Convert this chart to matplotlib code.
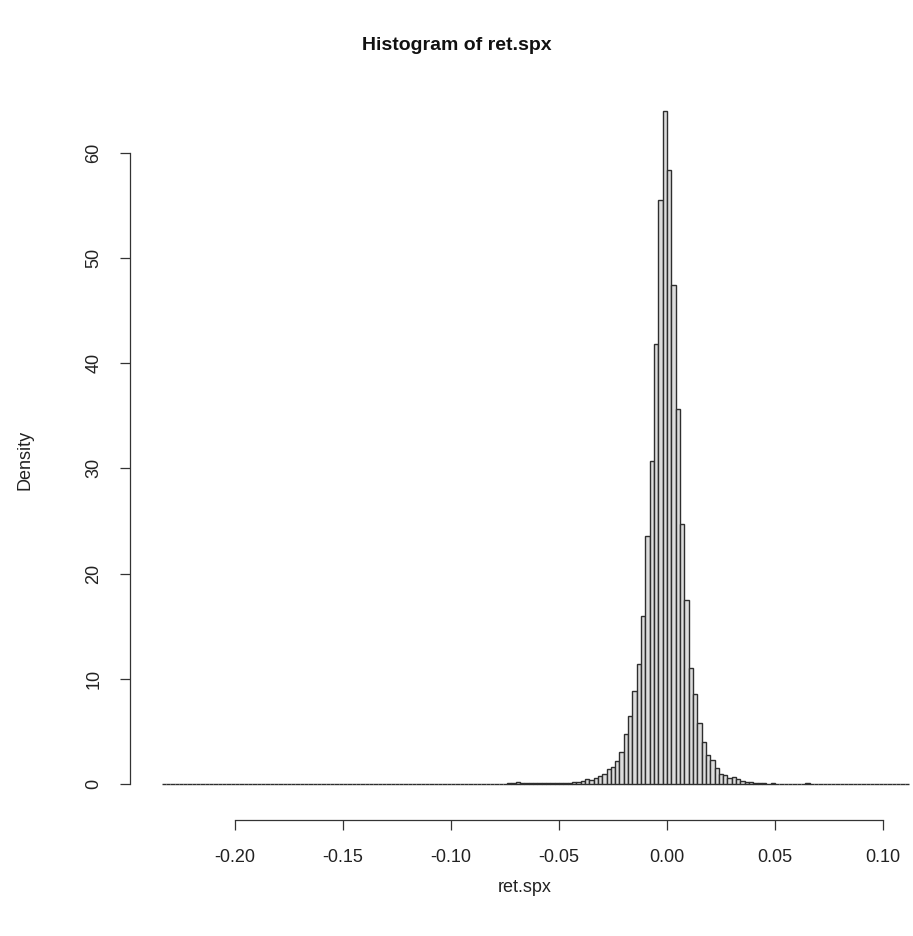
import numpy as np
import matplotlib
matplotlib.use('Agg')
import matplotlib.pyplot as plt

plt.rcParams['font.family'] = ['Liberation Sans', 'DejaVu Sans']

# histogram of daily S&P 500 log returns, bin width 0.002 from -0.234 to 0.114
bin_width = 0.002
first_edge = -0.234

# density per bin, left tail (-0.234 .. -0.042)
tail_left = [0.03, 0, 0, 0, 0, 0, 0, 0, 0, 0,
             0, 0, 0, 0, 0, 0, 0, 0, 0, 0,
             0, 0, 0, 0, 0, 0, 0, 0, 0, 0,
             0, 0, 0, 0, 0, 0, 0, 0, 0, 0,
             0, 0, 0, 0, 0, 0, 0, 0, 0, 0,
             0, 0, 0, 0, 0, 0, 0, 0, 0, 0.03,
             0, 0, 0, 0, 0, 0.03, 0, 0, 0, 0.03,
             0, 0, 0, 0.03, 0, 0.03, 0.03, 0.03, 0, 0.03,
             0.06, 0.06, 0.15, 0.06, 0.06, 0.06, 0.1, 0.06, 0.1, 0.06,
             0.06, 0.1, 0.06, 0.12, 0.1, 0.15]
# central part (-0.042 .. 0.042)
center = [0.2, 0.3, 0.45, 0.38, 0.6, 0.79, 0.92, 1.4, 1.6, 2.2,
          3.0, 4.8, 6.5, 8.8, 11.4, 16.0, 23.6, 30.7, 41.8, 55.5,
          64.0, 58.4, 47.4, 35.6, 24.7, 17.5, 11.0, 8.6, 5.8, 4.0,
          2.75, 2.3, 1.5, 0.95, 0.85, 0.54, 0.7, 0.45, 0.3, 0.2,
          0.15]
# right tail (0.042 .. 0.114)
tail_right = [0.1, 0.06, 0.06, 0.03, 0.06, 0.03, 0.03, 0, 0.03, 0.03,
              0.03, 0, 0.06, 0, 0.03, 0, 0, 0, 0.03, 0,
              0, 0, 0, 0, 0, 0, 0, 0.03, 0, 0,
              0, 0, 0, 0, 0, 0]

density = np.array(tail_left + center + tail_right)
edges = first_edge + bin_width * np.arange(len(density) + 1)

xticks = [-0.20, -0.15, -0.10, -0.05, 0.00, 0.05, 0.10]
xticklabels = ['-0.20', '-0.15', '-0.10', '-0.05', '0.00', '0.05', '0.10']
yticks = [0, 10, 20, 30, 40, 50, 60]

W, H = 913, 936
fig = plt.figure(figsize=(W / 100, H / 100), dpi=100)
# axes box in pixels: left 130, right 913, bottom 820, top 84
ax = fig.add_axes([130 / W, 1 - 820 / H, (913 - 130) / W, (820 - 84) / H])

ax.bar(edges[:-1], density, width=bin_width, align='edge',
       facecolor='#dcdcdc', edgecolor='#2e2e2e', linewidth=1.0)

ax.set_xlim((130 - 667) / 2160, (913 - 667) / 2160)
ax.set_ylim(-(820 - 784) / 10.52, (784 - 84) / 10.52)

for s in ['top', 'right']:
    ax.spines[s].set_visible(False)
ax.spines['left'].set_bounds(0, 60)
ax.spines['bottom'].set_bounds(-0.20, 0.10)
for s in ['left', 'bottom']:
    ax.spines[s].set_linewidth(0.9)
    ax.spines[s].set_color('#333333')

ax.set_xticks(xticks)
ax.set_xticklabels(xticklabels)
ax.set_yticks(yticks)
ax.set_yticklabels([str(v) for v in yticks], rotation=90, va='center')
ax.tick_params(axis='both', length=7, width=0.9, color='#333333',
               labelsize=13, labelcolor='#222222')
ax.tick_params(axis='x', pad=14)
ax.tick_params(axis='y', pad=13)

fig.text(0.5, 1 - 45 / H, 'Histogram of ret.spx', ha='center', va='center',
         fontsize=14, fontweight='bold', color='#111111')
fig.text(525 / W, 1 - 888 / H, 'ret.spx', ha='center', va='center',
         fontsize=13, color='#222222')
fig.text(25 / W, 1 - 460 / H, 'Density', ha='center', va='center',
         rotation=90, fontsize=13, color='#222222')

fig.savefig('out.png', dpi=100)
